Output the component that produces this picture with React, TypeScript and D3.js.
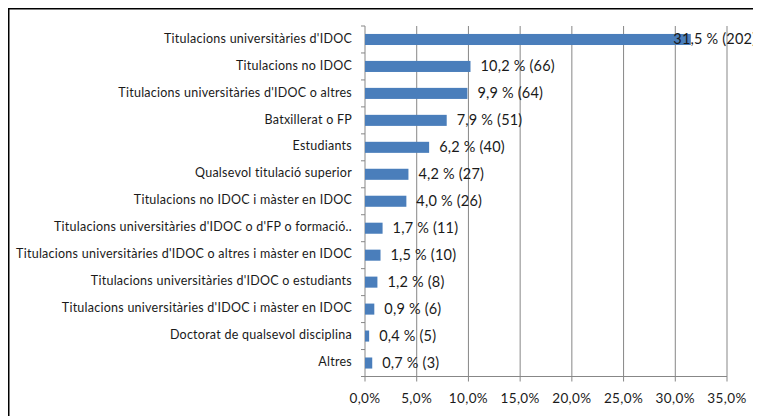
import React from "react";
import * as d3 from "d3";

const categories = [
  "Titulacions universitàries d'IDOC",
  "Titulacions no IDOC",
  "Titulacions universitàries d'IDOC o altres",
  "Batxillerat o FP",
  "Estudiants",
  "Qualsevol titulació superior",
  "Titulacions no IDOC i màster en IDOC",
  "Titulacions universitàries d'IDOC o d'FP o formació..",
  "Titulacions universitàries d'IDOC o altres i màster en IDOC",
  "Titulacions universitàries d'IDOC o estudiants",
  "Titulacions universitàries d'IDOC i màster en IDOC",
  "Doctorat de qualsevol disciplina",
  "Altres",
];
const percents = [31.5, 10.2, 9.9, 7.9, 6.2, 4.2, 4.0, 1.7, 1.5, 1.2, 0.9, 0.4, 0.7];
const counts = [202, 66, 64, 51, 40, 27, 26, 11, 10, 8, 6, 5, 3];
const tickValues = [0, 5, 10, 15, 20, 25, 30, 35];

const W = 761;
const H = 416;

export default function App() {
  const left = 357;
  const right = 719;
  const top = 18;
  const bottom = 368.5;
  const x = d3.scaleLinear().domain([0, 35]).range([left, right]);
  const y = d3.scaleBand<string>().domain(categories).range([top, bottom]).paddingInner(0.59).paddingOuter(0.295);
  const yb = d3.scaleBand<string>().domain(categories).range([top, bottom]);
  const fmtTick = (v: number) => v.toFixed(1).replace(".", ",") + "%";
  const fmtVal = (v: number) => v.toFixed(1).replace(".", ",") + " %";
  const labelMax = x(30) - 2;
  const gridColor = "#878787";
  const font = "Lato, 'Open Sans', sans-serif";

  return (
    <svg width={W} height={H} style={{ display: "block", overflow: "hidden" }}>
      <rect x={0.75} y={0.75} width={W + 40} height={H + 40} fill="#fff" stroke="#000" strokeWidth={1.5} />
      {/* gridlines */}
      {tickValues.map((t) => (
        <line key={"g" + t} x1={x(t)} x2={x(t)} y1={top} y2={bottom + 5} stroke={gridColor} strokeWidth={1} />
      ))}
      {/* bottom axis */}
      <line x1={left} x2={right} y1={bottom} y2={bottom} stroke={gridColor} strokeWidth={1} />
      {/* category axis ticks */}
      {categories.map((c) => (
        <line key={"t" + c} x1={left - 4} x2={left} y1={yb(c)!} y2={yb(c)!} stroke={gridColor} strokeWidth={1} />
      ))}
      <line x1={left - 4} x2={left} y1={bottom} y2={bottom} stroke={gridColor} strokeWidth={1} />
      {/* tick labels */}
      {tickValues.map((t) => (
        <text key={"l" + t} x={x(t)} y={392} textAnchor="middle" dominantBaseline="middle"
          fontFamily={font} fontSize={13.5} letterSpacing={0.4} fill="#1a1a1a">
          {fmtTick(t)}
        </text>
      ))}
      {/* bars */}
      {categories.map((c, i) => (
        <rect key={"b" + c} x={x(0)} y={y(c)!} width={x(percents[i]) - x(0)} height={y.bandwidth()} fill="#4a7ebb" />
      ))}
      {/* category labels */}
      {categories.map((c) => (
        <text key={"c" + c} x={left - 13} y={y(c)! + y.bandwidth() / 2} textAnchor="end" dominantBaseline="middle"
          fontFamily={font} fontSize={12.5} letterSpacing={0.25} fill="#1a1a1a">
          {c}
        </text>
      ))}
      {/* value labels */}
      {categories.map((c, i) => (
        <text key={"v" + c} x={Math.min(x(percents[i]) + 10, labelMax)} y={y(c)! + y.bandwidth() / 2 + 1}
          dominantBaseline="middle" fontFamily={font} fontSize={14.5} letterSpacing={0.2} fill="#1a1a1a">
          {fmtVal(percents[i]) + " (" + counts[i] + ")"}
        </text>
      ))}
    </svg>
  );
}
